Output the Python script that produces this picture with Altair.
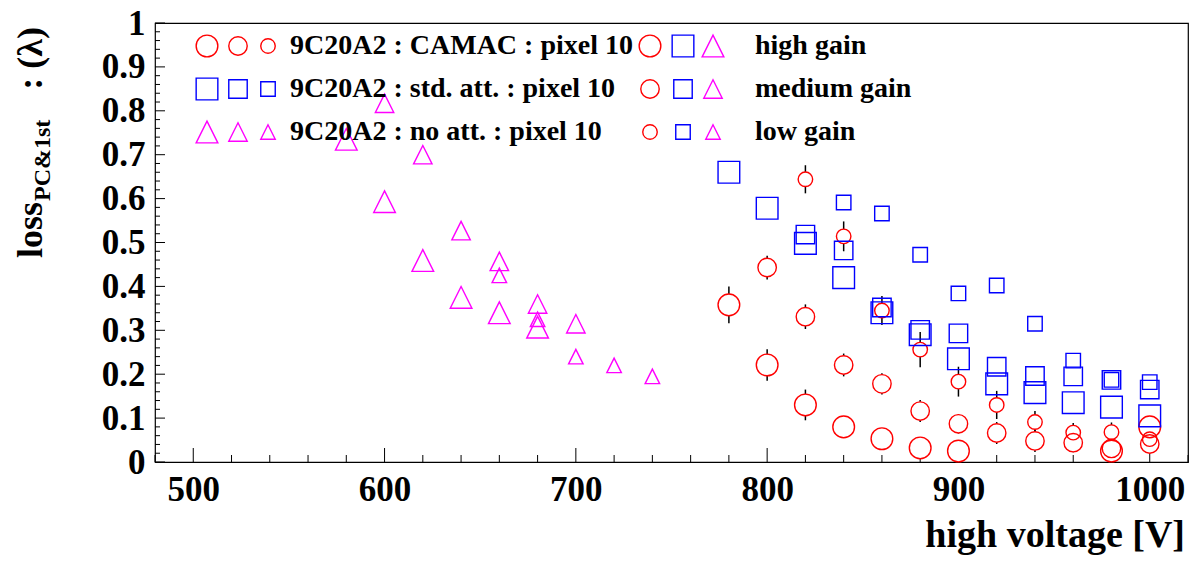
import altair as alt
import pandas as pd

# ---------------- data ----------------
boards = ["CAMAC", "std. att.", "no att."]
gains = ["high", "medium", "low"]

camac_high_hv = [780, 800, 820, 840, 860, 880, 900, 980, 1000]
camac_high = [0.358, 0.221, 0.130, 0.080, 0.053, 0.032, 0.025, 0.025, 0.080]
camac_high_err = [0.042, 0.036, 0.035, 0.022, 0.020, 0.022, 0.020, 0.020, 0.020]

camac_med_hv = [800, 820, 840, 860, 880, 900, 920, 940, 960, 980, 1000]
camac_med = [0.443, 0.331, 0.221, 0.178, 0.116, 0.087, 0.066, 0.048, 0.044, 0.031, 0.041]
camac_med_err = [0.027, 0.028, 0.026, 0.024, 0.025, 0.022, 0.025, 0.025, 0.022, 0.020, 0.020]

camac_low_hv = [820, 840, 860, 880, 900, 920, 940, 960, 980, 1000]
camac_low = [0.644, 0.514, 0.345, 0.256, 0.183, 0.130, 0.091, 0.067, 0.068, 0.052]
camac_low_err = [0.032, 0.034, 0.033, 0.040, 0.034, 0.032, 0.025, 0.022, 0.022, 0.025]

std_high_hv = [780, 800, 820, 840, 860, 880, 900, 920, 940, 960, 980, 1000]
std_high = [0.660, 0.578, 0.498, 0.420, 0.340, 0.290, 0.235, 0.178, 0.158, 0.135, 0.125, 0.105]

std_med_hv = [820, 840, 860, 880, 900, 920, 940, 960, 980, 1000]
std_med = [0.518, 0.482, 0.352, 0.301, 0.293, 0.217, 0.196, 0.195, 0.187, 0.165]

std_low_hv = [840, 860, 880, 900, 920, 940, 960, 980, 1000]
std_low = [0.591, 0.566, 0.472, 0.384, 0.402, 0.315, 0.231, 0.187, 0.182]

noatt_high_hv = [580, 600, 620, 640, 660, 680]
noatt_high = [0.735, 0.593, 0.459, 0.375, 0.340, 0.307]

noatt_med_hv = [600, 620, 640, 660, 680, 700]
noatt_med = [0.817, 0.700, 0.527, 0.457, 0.360, 0.315]

noatt_low_hv = [660, 680, 700, 720, 740]
noatt_low = [0.425, 0.325, 0.240, 0.220, 0.195]

x_labels = [500, 600, 700, 800, 900, 1000]
x_minor = [480, 520, 540, 560, 580, 620, 640, 660, 680, 720, 740, 760, 780,
           820, 840, 860, 880, 920, 940, 960, 980, 1020]
y_labels = [0, 0.1, 0.2, 0.3, 0.4, 0.5, 0.6, 0.7, 0.8, 0.9, 1.0]
y_minor = [0.02, 0.04, 0.06, 0.08, 0.12, 0.14, 0.16, 0.18, 0.22, 0.24, 0.26, 0.28,
           0.32, 0.34, 0.36, 0.38, 0.42, 0.44, 0.46, 0.48, 0.52, 0.54, 0.56, 0.58,
           0.62, 0.64, 0.66, 0.68, 0.72, 0.74, 0.76, 0.78, 0.82, 0.84, 0.86, 0.88,
           0.92, 0.94, 0.96, 0.98]

legend_board_text = ["9C20A2 : CAMAC : pixel 10", "9C20A2 : std. att. : pixel 10",
                     "9C20A2 : no att. : pixel 10"]
legend_gain_text = ["high gain", "medium gain", "low gain"]

# ---------------- build tables ----------------
def rows(board, gain, hv, vals, err=None):
    out = []
    for i, (h, v) in enumerate(zip(hv, vals)):
        e = err[i] if err is not None else 0.0
        out.append({"board": board, "gain": gain, "hv": h, "loss": v,
                    "lo": v - e, "hi": v + e})
    return out

recs = []
recs += rows("CAMAC", "high", camac_high_hv, camac_high, camac_high_err)
recs += rows("CAMAC", "medium", camac_med_hv, camac_med, camac_med_err)
recs += rows("CAMAC", "low", camac_low_hv, camac_low, camac_low_err)
recs += rows("std. att.", "high", std_high_hv, std_high)
recs += rows("std. att.", "medium", std_med_hv, std_med)
recs += rows("std. att.", "low", std_low_hv, std_low)
recs += rows("no att.", "high", noatt_high_hv, noatt_high)
recs += rows("no att.", "medium", noatt_med_hv, noatt_med)
recs += rows("no att.", "low", noatt_low_hv, noatt_low)
df = pd.DataFrame(recs)

# ---------------- styling ----------------
W, H = 1033, 439
FONT = "Liberation Serif"
colors = {"CAMAC": "#ff0000", "std. att.": "#0000ff", "no att.": "#ff00ff"}
tri = "M0,-1L1,1L-1,1Z"
shapes = {"CAMAC": "circle", "std. att.": "square", "no att.": tri}
size_scale = alt.Scale(domain=gains, range=[470, 210, 64])

xscale = alt.Scale(domain=[480, 1020], nice=False, zero=False)
yscale = alt.Scale(domain=[0, 1], nice=False, zero=True)
xaxis = alt.Axis(values=x_labels, format="d", ticks=False, domain=False, grid=False,
                 labelFont=FONT, labelFontWeight="bold", labelFontSize=35,
                 labelColor="black", labelPadding=10, labelFlush=False, title=None)
yaxis = alt.Axis(values=y_labels, format=".1~f", ticks=False, domain=False, grid=False,
                 labelFont=FONT, labelFontWeight="bold", labelFontSize=35,
                 labelColor="black", labelPadding=10, labelFlush=False, title=None)

def X(field):
    return alt.X(field, type="quantitative", scale=xscale, axis=xaxis)

def Y(field):
    return alt.Y(field, type="quantitative", scale=yscale, axis=yaxis)

layers = []

# ticks (ROOT style, pointing inward)
xt_major = pd.DataFrame({"t": x_labels})
xt_min = pd.DataFrame({"t": x_minor})
yt_major = pd.DataFrame({"t": y_labels})
yt_min = pd.DataFrame({"t": y_minor})
layers.append(alt.Chart(xt_major).mark_rule(color="black", strokeWidth=1).encode(
    x=X("t"), y=alt.value(H), y2=alt.value(H - 14)))
layers.append(alt.Chart(xt_min).mark_rule(color="black", strokeWidth=1).encode(
    x=X("t"), y=alt.value(H), y2=alt.value(H - 7)))
layers.append(alt.Chart(yt_major).mark_rule(color="black", strokeWidth=1).encode(
    y=Y("t"), x=alt.value(0), x2=alt.value(10)))
layers.append(alt.Chart(yt_min).mark_rule(color="black", strokeWidth=1).encode(
    y=Y("t"), x=alt.value(0), x2=alt.value(5)))

cam = df[df.board == "CAMAC"]
# error bars
layers.append(alt.Chart(cam).mark_rule(color="black", strokeWidth=1.5).encode(
    x=X("hv"), y=Y("lo"), y2="hi"))
# white interior of the circles (hide the error bar inside the marker)
layers.append(alt.Chart(cam).mark_point(shape="circle", filled=True, color="white",
                                        opacity=1).encode(
    x=X("hv"), y=Y("loss"),
    size=alt.Size("gain:N", scale=size_scale, legend=None)))

for b in boards:
    sub = df[df.board == b]
    layers.append(alt.Chart(sub).mark_point(shape=shapes[b], filled=False,
                                            color=colors[b], strokeWidth=1.4,
                                            opacity=1).encode(
        x=X("hv"), y=Y("loss"),
        size=alt.Size("gain:N", scale=size_scale, legend=None)))

# ---------------- legend (inside the frame, top left) ----------------
row_y = [23, 66, 109]
col1_x = [52, 83, 113]
col2_x = [495, 528, 558]
leg = []
for r, b in enumerate(boards):
    for c, g in enumerate(gains):
        leg.append({"board": b, "gain": g, "lx": col1_x[c], "ly": row_y[r]})
for r, g in enumerate(gains):
    for c, b in enumerate(boards):
        leg.append({"board": b, "gain": g, "lx": col2_x[c], "ly": row_y[r]})
legdf = pd.DataFrame(leg)
for b in boards:
    sub = legdf[legdf.board == b]
    layers.append(alt.Chart(sub).mark_point(shape=shapes[b], filled=False,
                                            color=colors[b], strokeWidth=1.4,
                                            opacity=1).encode(
        x=alt.X("lx:Q", scale=None, axis=None),
        y=alt.Y("ly:Q", scale=None, axis=None),
        size=alt.Size("gain:N", scale=size_scale, legend=None)))

legtxt = pd.DataFrame(
    [{"t": legend_board_text[i], "lx": 135, "ly": row_y[i]} for i in range(3)]
    + [{"t": legend_gain_text[i], "lx": 600, "ly": row_y[i]} for i in range(3)])
layers.append(alt.Chart(legtxt).mark_text(align="left", baseline="middle", font=FONT,
                                          fontWeight="bold", fontSize=28,
                                          color="black").encode(
    x=alt.X("lx:Q", scale=None, axis=None),
    y=alt.Y("ly:Q", scale=None, axis=None), text="t:N"))

# ---------------- axis titles ----------------
layers.append(alt.Chart(pd.DataFrame({"t": ["high voltage [V]"]})).mark_text(
    align="right", baseline="alphabetic", font=FONT, fontWeight="bold", fontSize=38,
    color="black").encode(x=alt.value(1030), y=alt.value(524), text="t:N"))
layers.append(alt.Chart(pd.DataFrame({"t": ["loss"]})).mark_text(
    align="left", baseline="alphabetic", font=FONT, fontWeight="bold", fontSize=36,
    angle=270, color="black").encode(x=alt.value(-113), y=alt.value(235), text="t:N"))
layers.append(alt.Chart(pd.DataFrame({"t": ["PC&1st"]})).mark_text(
    align="left", baseline="alphabetic", font=FONT, fontWeight="bold", fontSize=24,
    angle=270, color="black").encode(x=alt.value(-105), y=alt.value(178), text="t:N"))
layers.append(alt.Chart(pd.DataFrame({"t": [": (λ)"]})).mark_text(
    align="right", baseline="alphabetic", font=FONT, fontWeight="bold", fontSize=36,
    angle=270, color="black").encode(x=alt.value(-113), y=alt.value(4), text="t:N"))

chart = alt.layer(*layers).properties(
    width=W, height=H,
    autosize=alt.AutoSizeParams(type="none"),
    padding={"left": 147, "top": 15, "right": 8, "bottom": 99},
    background="white",
).configure_view(stroke="black", strokeWidth=1.2)

chart.save("out.html", embed_options={"renderer": "svg", "actions": False})
